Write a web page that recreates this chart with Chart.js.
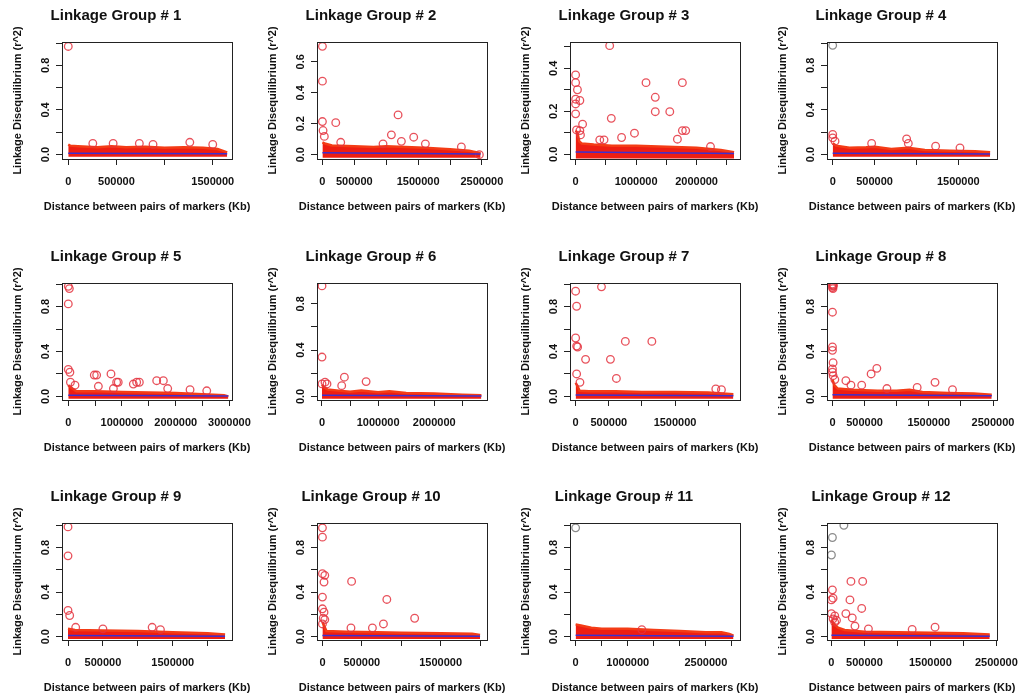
<!DOCTYPE html>
<html>
<head>
<meta charset="utf-8">
<script src="https://cdn.jsdelivr.net/npm/chart.js@4.4.0/dist/chart.umd.min.js"></script>
<style>
  body { margin: 0; background: #fff; }
  #wrap { position: relative; width: 1021px; height: 700px; overflow: hidden; }
  #wrap canvas { position: absolute; }
</style>
</head>
<body>
<div id="wrap"></div>
<script>
// x = distance between markers, y = r^2
const lg1Pts = [[0,0.97],[255000,0.10],[466000,0.10],[738000,0.10],[880000,0.09],[1262000,0.11],[1500000,0.09]];
const lg1Band = [[0,0.09],[20000,0.08],[100000,0.075],[200000,0.07],[300000,0.065],[450000,0.075],[600000,0.065],[800000,0.07],[1000000,0.06],[1200000,0.065],[1400000,0.06],[1550000,0.05],[1600000,0.035],[1650000,0.02]];
const lg1Trend = [[0,0.012],[1650000,0.006]];

const lg2Pts = [[0,0.70],[0,0.475],[0,0.214],[10000,0.156],[30000,0.118],[209000,0.207],[287000,0.08],[1186000,0.257],[1081000,0.128],[1238000,0.086],[1431000,0.113],[1614000,0.07],[950000,0.07],[2178000,0.05],[2460000,0.0]];
const lg2Band = [[0,0.08],[50000,0.07],[150000,0.06],[500000,0.055],[800000,0.05],[1000000,0.055],[1300000,0.05],[1600000,0.045],[2000000,0.035],[2300000,0.025],[2480000,0.01]];
const lg2Trend = [[0,0.012],[2480000,0.005]];

const lg3Pts = [[563000,0.505],[0,0.369],[0,0.333],[30000,0.30],[0,0.256],[70000,0.25],[0,0.234],[0,0.188],[15000,0.113],[70000,0.11],[115000,0.14],[80000,0.09],[590000,0.167],[760000,0.078],[973000,0.098],[1164000,0.333],[1317000,0.265],[1317000,0.198],[1557000,0.198],[1765000,0.333],[1765000,0.11],[1820000,0.11],[1683000,0.07],[399000,0.067],[470000,0.067],[2230000,0.036]];
const lg3Band = [[0,0.11],[30000,0.10],[60000,0.06],[100000,0.05],[300000,0.045],[600000,0.04],[1000000,0.04],[1500000,0.035],[2000000,0.03],[2400000,0.02],[2620000,0.01]];
const lg3Trend = [[0,0.01],[2620000,0.004]];

const lg4Pts = [[0,0.18],[0,0.15],[28000,0.12],[465000,0.10],[883000,0.14],[903000,0.10],[1229000,0.075],[1520000,0.06]];
const lg4Grey = [[0,0.98]];
const lg4Band = [[0,0.10],[40000,0.08],[200000,0.06],[400000,0.065],[500000,0.07],[700000,0.05],[900000,0.06],[1100000,0.04],[1400000,0.035],[1700000,0.03],[1880000,0.02]];
const lg4Trend = [[0,0.012],[1880000,0.005]];

const lg5Pts = [[0,0.98],[20000,0.96],[0,0.824],[0,0.24],[30000,0.215],[40000,0.126],[125000,0.10],[484000,0.19],[528000,0.19],[560000,0.09],[795000,0.20],[840000,0.07],[900000,0.126],[930000,0.126],[1211000,0.11],[1273000,0.126],[1323000,0.126],[1646000,0.14],[1770000,0.14],[1851000,0.07],[2267000,0.06],[2578000,0.05]];
const lg5Band = [[0,0.10],[50000,0.08],[150000,0.045],[500000,0.045],[1000000,0.04],[1500000,0.035],[2000000,0.03],[2500000,0.02],[2900000,0.01],[2980000,0.0]];
const lg5Trend = [[0,0.01],[2980000,0.003]];

const lg6Pts = [[0,0.955],[0,0.34],[0,0.108],[54000,0.123],[89000,0.108],[399000,0.166],[351000,0.093],[786000,0.128]];
const lg6Band = [[0,0.10],[30000,0.08],[100000,0.06],[300000,0.05],[500000,0.04],[700000,0.05],[1000000,0.035],[1200000,0.045],[1500000,0.03],[2000000,0.025],[2500000,0.015],[2840000,0.01]];
const lg6Trend = [[0,0.01],[2840000,0.004]];

const lg7Pts = [[0,0.937],[15000,0.803],[0,0.52],[15000,0.448],[30000,0.44],[390000,0.976],[750000,0.49],[1150000,0.49],[150000,0.33],[525000,0.33],[615000,0.16],[15000,0.20],[65000,0.125],[2115000,0.066],[2200000,0.06]];
const lg7Band = [[0,0.12],[20000,0.10],[60000,0.05],[200000,0.045],[600000,0.045],[1000000,0.04],[1500000,0.04],[2000000,0.035],[2380000,0.02]];
const lg7Trend = [[0,0.012],[2380000,0.005]];

const lg8Pts = [[0,1.0],[5000,0.99],[10000,0.98],[0,0.97],[15000,0.99],[8000,0.96],[0,0.75],[0,0.44],[0,0.41],[10000,0.30],[0,0.245],[0,0.215],[10000,0.185],[37000,0.15],[209000,0.14],[288000,0.10],[455000,0.10],[602000,0.20],[691000,0.25],[848000,0.07],[1319000,0.08],[1597000,0.125],[1869000,0.06]];
const lg8Band = [[0,0.15],[30000,0.10],[80000,0.07],[300000,0.06],[700000,0.05],[1000000,0.05],[1200000,0.06],[1400000,0.04],[1800000,0.03],[2200000,0.025],[2480000,0.015]];
const lg8Trend = [[0,0.015],[2480000,0.005]];

const lg9Pts = [[0,0.985],[0,0.725],[0,0.235],[24000,0.19],[110000,0.084],[500000,0.07],[1205000,0.084],[1324000,0.063]];
const lg9Band = [[0,0.07],[100000,0.06],[500000,0.055],[1000000,0.05],[1500000,0.04],[2000000,0.03],[2250000,0.02]];
const lg9Trend = [[0,0.01],[2250000,0.004]];

const lg10Pts = [[0,0.977],[0,0.893],[0,0.565],[30000,0.55],[20000,0.49],[0,0.355],[0,0.25],[20000,0.22],[30000,0.153],[10000,0.165],[0,0.114],[370000,0.496],[817000,0.334],[1170000,0.165],[774000,0.114],[634000,0.078],[362000,0.078]];
const lg10Band = [[0,0.13],[20000,0.10],[50000,0.05],[300000,0.045],[700000,0.04],[1000000,0.035],[1500000,0.03],[1900000,0.025],[2000000,0.015]];
const lg10Trend = [[0,0.01],[2000000,0.004]];

const lg11Pts = [[1271000,0.063]];
const lg11Grey = [[0,0.977]];
const lg11Band = [[0,0.11],[100000,0.10],[300000,0.08],[500000,0.07],[1000000,0.07],[1500000,0.06],[2000000,0.05],[2500000,0.04],[2800000,0.04],[2950000,0.025],[3030000,0.01]];
const lg11Trend = [[0,0.012],[3030000,0.004]];

const lg12Pts = [[15000,0.42],[0,0.33],[25000,0.345],[296000,0.496],[474000,0.496],[281000,0.33],[459000,0.253],[219000,0.207],[316000,0.168],[51000,0.186],[77000,0.147],[0,0.207],[25000,0.16],[50000,0.13],[357000,0.095],[561000,0.07],[1224000,0.065],[1571000,0.085]];
const lg12Grey = [[189000,1.0],[15000,0.89],[0,0.733]];
const lg12Band = [[0,0.15],[30000,0.12],[100000,0.08],[200000,0.06],[500000,0.045],[1000000,0.04],[1500000,0.035],[2000000,0.03],[2400000,0.02]];
const lg12Trend = [[0,0.012],[2400000,0.004]];

// tick positions and which of them get a label
const xTicks15 = [0,500000,1000000,1500000];
const xTicks20 = [0,500000,1000000,1500000,2000000];
const xTicks25 = [0,500000,1000000,1500000,2000000,2500000];
const xTicks30 = [0,500000,1000000,1500000,2000000,2500000,3000000];
const yTicks10 = [0,0.2,0.4,0.6,0.8,1.0];
const yTicks08 = [0,0.2,0.4,0.6,0.8];
const yTicks06 = [0,0.2,0.4,0.6];
const yTicks05 = [0,0.1,0.2,0.3,0.4,0.5];
const yLabelsWide = [0,0.4,0.8];

const panels = [
  { n: 1, pts: lg1Pts, band: lg1Band, trend: lg1Trend, x: [-65000,1700000], y: [-0.04,1.01], xt: xTicks15, xl: [0,500000,1500000], yt: yTicks10, yl: yLabelsWide },
  { n: 2, pts: lg2Pts, band: lg2Band, trend: lg2Trend, x: [-85000,2580000], y: [-0.028,0.728], xt: xTicks25, xl: [0,500000,1500000,2500000], yt: yTicks06, yl: yTicks06 },
  { n: 3, pts: lg3Pts, band: lg3Band, trend: lg3Trend, x: [-93000,2718000], y: [-0.022,0.522], xt: xTicks25, xl: [0,1000000,2000000], yt: yTicks05, yl: [0,0.2,0.4] },
  { n: 4, pts: lg4Pts, grey: lg4Grey, band: lg4Band, trend: lg4Trend, x: [-68000,1962000], y: [-0.04,1.01], xt: xTicks15, xl: [0,500000,1500000], yt: yTicks10, yl: yLabelsWide },
  { n: 5, pts: lg5Pts, band: lg5Band, trend: lg5Trend, x: [-117000,3048000], y: [-0.032,1.01], xt: xTicks30, xl: [0,1000000,2000000,3000000], yt: yTicks10, yl: yLabelsWide },
  { n: 6, pts: lg6Pts, band: lg6Band, trend: lg6Trend, x: [-89000,2940000], y: [-0.031,0.98], xt: xTicks25, xl: [0,1000000,2000000], yt: yTicks08, yl: yLabelsWide },
  { n: 7, pts: lg7Pts, band: lg7Band, trend: lg7Trend, x: [-85000,2480000], y: [-0.032,1.01], xt: xTicks20, xl: [0,500000,1500000], yt: yTicks10, yl: yLabelsWide },
  { n: 8, pts: lg8Pts, band: lg8Band, trend: lg8Trend, x: [-85000,2562000], y: [-0.032,1.01], xt: xTicks25, xl: [0,500000,1500000,2500000], yt: yTicks10, yl: yLabelsWide },
  { n: 9, pts: lg9Pts, band: lg9Band, trend: lg9Trend, x: [-86000,2349000], y: [-0.03,1.02], xt: xTicks20, xl: [0,500000,1500000], yt: yTicks10, yl: yLabelsWide },
  { n: 10, pts: lg10Pts, band: lg10Band, trend: lg10Trend, x: [-69000,2088000], y: [-0.03,1.02], xt: xTicks20, xl: [0,500000,1500000], yt: yTicks10, yl: yLabelsWide },
  { n: 11, pts: lg11Pts, grey: lg11Grey, band: lg11Band, trend: lg11Trend, x: [-108000,3155000], y: [-0.03,1.02], xt: xTicks30, xl: [0,1000000,2500000], yt: yTicks10, yl: yLabelsWide },
  { n: 12, pts: lg12Pts, grey: lg12Grey, band: lg12Band, trend: lg12Trend, x: [-67000,2510000], y: [-0.03,1.02], xt: xTicks25, xl: [0,500000,1500000,2500000], yt: yTicks10, yl: yLabelsWide }
];

const FONT = '"Liberation Sans", Arial, Helvetica, sans-serif';
const colLeft = [0, 255, 508, 765];
const rowTop = [0, 241, 481];
const W = 255, H = 235;
const bandFloor = -0.02;

const toXY = arr => arr.map(([x, y]) => ({ x, y }));

// R style frame, vertical y tick labels and the x axis title (drawn without width limit)
const rFrame = {
  id: 'rFrame',
  afterDraw(chart, args, opts) {
    const { ctx, chartArea: a } = chart;
    const y = chart.scales.y;
    ctx.save();
    ctx.strokeStyle = '#222';
    ctx.lineWidth = 1;
    ctx.strokeRect(Math.round(a.left) + 0.5, Math.round(a.top) + 0.5, Math.round(a.right - a.left), Math.round(a.bottom - a.top));
    ctx.fillStyle = '#111';
    ctx.font = 'bold 11px ' + FONT;
    ctx.textAlign = 'center';
    ctx.textBaseline = 'middle';
    opts.labels.forEach(v => {
      ctx.save();
      ctx.translate(a.left - 16, y.getPixelForValue(v));
      ctx.rotate(-Math.PI / 2);
      ctx.fillText(v.toFixed(1), 0, 0);
      ctx.restore();
    });
    ctx.fillText(opts.xTitle, (a.left + a.right) / 2, 207);
    ctx.restore();
  }
};

const wrap = document.getElementById('wrap');

panels.forEach((p, i) => {
  const canvas = document.createElement('canvas');
  canvas.width = W;
  canvas.height = H;
  canvas.style.left = colLeft[i % 4] + 'px';
  canvas.style.top = rowTop[Math.floor(i / 4)] + 'px';
  wrap.appendChild(canvas);

  const circle = (data, color, order) => ({
    type: 'scatter', data: toXY(data), order,
    pointStyle: 'circle', pointRadius: 3.8, borderWidth: 1.3,
    borderColor: color, backgroundColor: 'rgba(0,0,0,0)'
  });

  const datasets = [
    { type: 'line', data: toXY(p.trend), order: 0, borderColor: '#3b2fd2', borderWidth: 1.5, pointRadius: 0, fill: false },
    circle(p.pts, 'rgba(228,50,62,0.85)', 1),
    { type: 'line', data: toXY(p.band), order: 3, borderColor: 'rgb(244,60,22)', backgroundColor: 'rgb(238,30,18)',
      borderWidth: 2.5, pointRadius: 0, tension: 0, fill: { value: bandFloor } }
  ];
  if (p.grey) datasets.push(circle(p.grey, 'rgba(110,110,110,0.8)', 2));

  const axisGrid = { drawOnChartArea: false, drawTicks: true, tickLength: 6, color: '#222', lineWidth: 1 };

  new Chart(canvas, {
    type: 'scatter',
    data: { datasets },
    options: {
      responsive: false,
      animation: false,
      devicePixelRatio: 1,
      layout: { padding: { left: 0, right: 23, top: 0, bottom: 0 } },
      plugins: {
        legend: { display: false },
        tooltip: { enabled: false },
        title: {
          display: true, text: 'Linkage Group # ' + p.n, color: '#111',
          font: { family: FONT, size: 15, weight: 'bold' },
          padding: { top: 7, bottom: 17 }
        },
        rFrame: { labels: p.yl, xTitle: 'Distance between pairs of markers (Kb)' }
      },
      scales: {
        x: {
          type: 'linear', min: p.x[0], max: p.x[1],
          afterBuildTicks: s => { s.ticks = p.xt.map(v => ({ value: v })); },
          afterFit: s => { s.height = H - 159; s.paddingLeft = 0; s.paddingRight = 0; },
          grid: axisGrid,
          border: { display: true, color: '#222' },
          ticks: {
            autoSkip: false, maxRotation: 0, padding: 10, color: '#111',
            font: { family: FONT, size: 11, weight: 'bold' },
            callback: v => (p.xl.includes(v) ? String(v) : '')
          },
          title: { display: false }
        },
        y: {
          type: 'linear', min: p.y[0], max: p.y[1],
          afterBuildTicks: s => { s.ticks = p.yt.map(v => ({ value: v })); },
          afterFit: s => { s.width = 62; s.paddingTop = 0; s.paddingBottom = 0; },
          grid: axisGrid,
          border: { display: true, color: '#222' },
          ticks: { display: false },
          title: {
            display: true, text: 'Linkage Disequilibrium (r^2)', color: '#111',
            font: { family: FONT, size: 11, weight: 'bold' },
            padding: { top: 11, bottom: 0 }
          }
        }
      }
    },
    plugins: [rFrame]
  });
});
</script>
</body>
</html>
